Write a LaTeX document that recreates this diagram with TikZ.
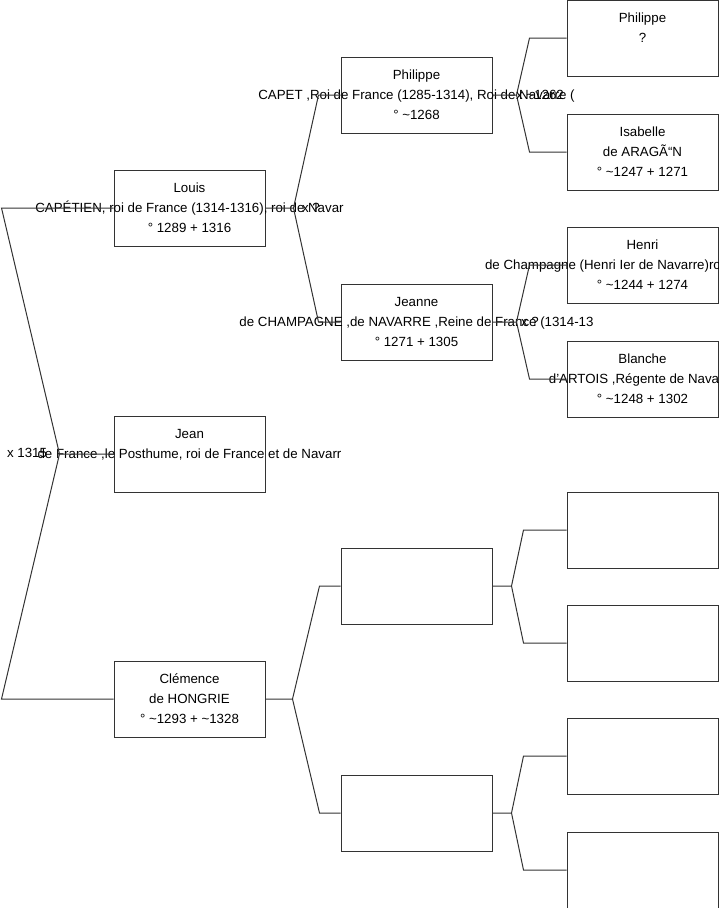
\documentclass[tikz,border=0pt]{standalone}
\usepackage{fontspec}
\setmainfont{Liberation Sans}
\usepackage{tikz}
\usetikzlibrary{positioning,calc}
\definecolor{traitGris}{HTML}{333333}

% trois lignes centrees, qui peuvent deborder de la case
\newcommand{\fiche}[3]{\makebox[0pt]{\strut#1}\\\makebox[0pt]{\strut#2}\\\makebox[0pt]{\strut#3}}

\begin{document}
\begin{tikzpicture}[
            x=1pt, y=-1pt,
            personne/.style={
                    rectangle,
                    draw=traitGris,
                    line width=1pt,
                    minimum width=151pt,
                    minimum height=76pt,
                    inner sep=0pt,
                    align=center,
                    font=\fontsize{13.3}{20}\selectfont
                },
            lien/.style={
                    draw=traitGris,
                    line width=1pt
                },
            mariage/.style={
                    inner sep=0pt,
                    font=\fontsize{13.3}{16}\selectfont
                }
        ]
        \useasboundingbox (0,0) rectangle (719,908);

        % Premiere colonne
        \node[personne] (louis) at (189.5,208) {\fiche{Louis}{CAPÉTIEN, roi de France (1314-1316), roi de Navar}{° 1289 + 1316}};
        \node[personne] (jean) at (189.5,454) {\fiche{Jean}{de France ,le Posthume, roi de France et de Navarr}{}};
        \node[personne] (clemence) at (189.5,699) {\fiche{Clémence}{de HONGRIE}{° \textasciitilde1293 + \textasciitilde1328}};

        % Deuxieme colonne
        \node[personne] (philippeP) at (416.5,95) {\fiche{Philippe}{CAPET ,Roi de France (1285-1314), Roi de Navarre (}{° \textasciitilde1268}};
        \node[personne] (jeanne) at (416.5,322) {\fiche{Jeanne}{de CHAMPAGNE ,de NAVARRE ,Reine de France (1314-13}{° 1271 + 1305}};
        \node[personne] (inconnuA) at (416.5,586) {};
        \node[personne] (inconnuB) at (416.5,813) {};

        % Troisieme colonne
        \node[personne] (philippeA) at (642.5,38) {\fiche{Philippe}{?}{}};
        \node[personne] (isabelle) at (642.5,152) {\fiche{Isabelle}{de ARAGÃ“N}{° \textasciitilde1247 + 1271}};
        \node[personne] (henri) at (642.5,265) {\fiche{Henri}{de Champagne (Henri Ier de Navarre)ro\hspace{79pt}}{° \textasciitilde1244 + 1274}};
        \node[personne] (blanche) at (642.5,379) {\fiche{Blanche}{d'ARTOIS ,Régente de Nava\hspace{17pt}}{° \textasciitilde1248 + 1302}};
        \node[personne] (inconnuC) at (642.5,530) {};
        \node[personne] (inconnuD) at (642.5,643) {};
        \node[personne] (inconnuE) at (642.5,756) {};
        \node[personne] (inconnuF) at (642.5,870) {};

        % Parents de Jean
        \draw[lien] (jean.west) -- ++(-54,0) coordinate (fJean) -- ([xshift=-112pt]louis.west) -- (louis.west);
        \draw[lien] (fJean) -- ([xshift=-112pt]clemence.west) -- (clemence.west);

        % Parents de Louis et de Clemence
        \draw[lien] (louis.east) -- ++(28,0) coordinate (fLouis) -- ([xshift=-22pt]philippeP.west) -- (philippeP.west);
        \draw[lien] (fLouis) -- ([xshift=-22pt]jeanne.west) -- (jeanne.west);
        \draw[lien] (clemence.east) -- ++(27,0) coordinate (fClemence) -- ([xshift=-21pt]inconnuA.west) -- (inconnuA.west);
        \draw[lien] (fClemence) -- ([xshift=-21pt]inconnuB.west) -- (inconnuB.west);

        % Troisieme generation
        \draw[lien] (philippeP.east) -- ++(24,0) coordinate (fPhilippe) -- ([xshift=-37pt]philippeA.west) -- (philippeA.west);
        \draw[lien] (fPhilippe) -- ([xshift=-37pt]isabelle.west) -- (isabelle.west);
        \draw[lien] (jeanne.east) -- ++(24,0) coordinate (fJeanne) -- ([xshift=-37pt]henri.west) -- (henri.west);
        \draw[lien] (fJeanne) -- ([xshift=-37pt]blanche.west) -- (blanche.west);
        \draw[lien] (inconnuA.east) -- ++(19,0) coordinate (fInconnuA) -- ([xshift=-43pt]inconnuC.west) -- (inconnuC.west);
        \draw[lien] (fInconnuA) -- ([xshift=-43pt]inconnuD.west) -- (inconnuD.west);
        \draw[lien] (inconnuB.east) -- ++(19,0) coordinate (fInconnuB) -- ([xshift=-43pt]inconnuE.west) -- (inconnuE.west);
        \draw[lien] (fInconnuB) -- ([xshift=-43pt]inconnuF.west) -- (inconnuF.west);

        % Mariages
        \node[mariage] (mJean) at (27,453) {x 1315};
        \node[mariage] (mLouis) at (311,208) {x ?};
        \node[mariage] (mPhilippe) at (540,95) {x \textasciitilde1262};
        \node[mariage] (mJeanne) at (530,322) {x ?};

    \end{tikzpicture}
\end{document}
